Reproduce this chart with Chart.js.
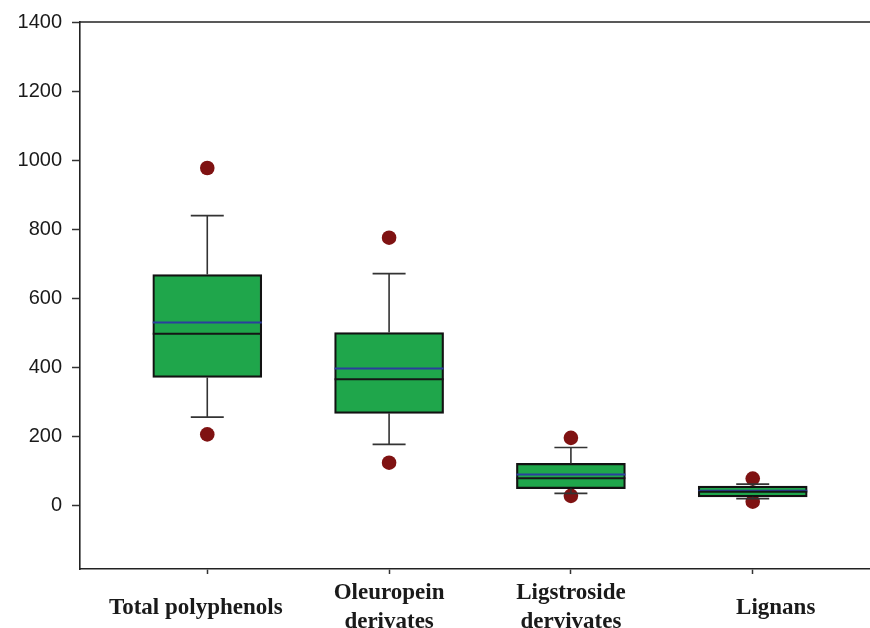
<!DOCTYPE html>
<html>
<head>
<meta charset="utf-8">
<script src="https://cdn.jsdelivr.net/npm/chart.js@4.4.1/dist/chart.umd.min.js"></script>
<style>
    html, body { margin: 0; padding: 0; background: #fff; overflow: hidden; }
    #wrap { width: 870px; height: 628px; }
</style>
</head>
<body>
<div id="wrap"><canvas id="boxChart" width="870" height="628"></canvas></div>
<script>
// categories and their position on the x axis
var categories = [['Total polyphenols'], ['Oleuropein', 'derivates'], ['Ligstroside', 'dervivates'], ['Lignans']];
var positions = [1, 2, 3, 4];

// box plot statistics
var whiskerLow  = [255, 176, 34, 19];
var q1          = [370, 266, 48, 24];
var median      = [497, 365, 78, 39];
var mean        = [529, 396, 89, 42];
var q3          = [668, 500, 121, 55];
var whiskerHigh = [839, 671, 167, 61];

// outliers (5th / 95th percentile points)
var outlierLow  = [205, 123, 27, 10];
var outlierHigh = [977, 775, 195, 77];

// y axis ticks
var yTicks = [0, 200, 400, 600, 800, 1000, 1200, 1400];

var boxData = positions.map(function(p, i) {
    return { x: p, y: [q1[i], q3[i]] };
});

var outlierData = [];
positions.forEach(function(p, i) {
    outlierData.push({ x: p, y: outlierLow[i] });
    outlierData.push({ x: p, y: outlierHigh[i] });
});

// whiskers, median and mean lines + top frame line
var boxExtras = {
    id: 'boxExtras',
    afterDatasetsDraw: function(chart) {
        var ctx = chart.ctx;
        var xs = chart.scales.x;
        var ys = chart.scales.y;
        var area = chart.chartArea;
        var half = 54.5;
        var cap = 16.5;

        ctx.save();
        positions.forEach(function(p, i) {
            var cx = xs.getPixelForValue(p);

            // whiskers
            ctx.strokeStyle = '#333';
            ctx.lineWidth = 1.6;
            ctx.beginPath();
            ctx.moveTo(cx, ys.getPixelForValue(q3[i]));
            ctx.lineTo(cx, ys.getPixelForValue(whiskerHigh[i]));
            ctx.moveTo(cx - cap, ys.getPixelForValue(whiskerHigh[i]));
            ctx.lineTo(cx + cap, ys.getPixelForValue(whiskerHigh[i]));
            ctx.moveTo(cx, ys.getPixelForValue(q1[i]));
            ctx.lineTo(cx, ys.getPixelForValue(whiskerLow[i]));
            ctx.moveTo(cx - cap, ys.getPixelForValue(whiskerLow[i]));
            ctx.lineTo(cx + cap, ys.getPixelForValue(whiskerLow[i]));
            ctx.stroke();

            // mean (blue)
            ctx.strokeStyle = '#2b3f9e';
            ctx.lineWidth = 2;
            ctx.beginPath();
            ctx.moveTo(cx - half, ys.getPixelForValue(mean[i]));
            ctx.lineTo(cx + half, ys.getPixelForValue(mean[i]));
            ctx.stroke();

            // median (black)
            ctx.strokeStyle = '#151515';
            ctx.lineWidth = 2;
            ctx.beginPath();
            ctx.moveTo(cx - half, ys.getPixelForValue(median[i]));
            ctx.lineTo(cx + half, ys.getPixelForValue(median[i]));
            ctx.stroke();
        });

        // top frame line
        ctx.strokeStyle = '#222';
        ctx.lineWidth = 1.6;
        ctx.beginPath();
        ctx.moveTo(area.left, area.top);
        ctx.lineTo(area.right, area.top);
        ctx.stroke();
        ctx.restore();
    }
};

var ctx = document.getElementById('boxChart').getContext('2d');
var chart = new Chart(ctx, {
    type: 'bar',
    data: {
        datasets: [{
            type: 'bar',
            data: boxData,
            backgroundColor: '#1fa64b',
            borderColor: '#121212',
            borderWidth: 2.2,
            borderSkipped: false,
            barThickness: 109,
            order: 1
        }, {
            type: 'scatter',
            data: outlierData,
            backgroundColor: '#7f1212',
            borderWidth: 0,
            pointRadius: 7.3,
            order: 2
        }]
    },
    options: {
        responsive: false,
        animation: false,
        layout: {
            autoPadding: false,
            padding: { top: 22, right: 0, bottom: 0, left: 0 }
        },
        plugins: {
            legend: { display: false },
            tooltip: { enabled: false }
        },
        scales: {
            x: {
                type: 'linear',
                position: 'bottom',
                offset: false,
                min: 0.3,
                max: 4.645,
                afterBuildTicks: function(scale) {
                    scale.ticks = positions.map(function(p) { return { value: p }; });
                },
                afterFit: function(scale) {
                    scale.height = 59;
                    scale.paddingLeft = 0;
                    scale.paddingRight = 0;
                },
                grid: {
                    offset: false,
                    drawOnChartArea: false,
                    drawTicks: true,
                    tickLength: 5,
                    tickWidth: 1.5,
                    tickColor: '#333'
                },
                border: { display: true, color: '#222', width: 1.6 },
                ticks: {
                    autoSkip: false,
                    maxRotation: 0,
                    padding: 19,
                    crossAlign: 'center',
                    color: '#1a1a1a',
                    font: { family: '"Liberation Serif", "Times New Roman", serif', size: 23, weight: 'bold', lineHeight: 1.27 },
                    callback: function(value) {
                        var label = categories[positions.indexOf(value)];
                        // the printed labels sit a little off their tick marks
                        if (value === 1) return [label[0] + '\u2002\u2002'];
                        if (value === 4) return ['\u2002\u2002\u2002\u2002' + label[0]];
                        return label;
                    }
                }
            },
            y: {
                min: -185,
                max: 1400,
                afterBuildTicks: function(scale) {
                    scale.ticks = yTicks.map(function(v) { return { value: v }; });
                },
                afterFit: function(scale) {
                    scale.width = 80;
                },
                grid: {
                    drawOnChartArea: false,
                    drawTicks: true,
                    tickLength: 8,
                    tickWidth: 1.5,
                    tickColor: '#333'
                },
                border: { display: true, color: '#222', width: 1.6 },
                ticks: {
                    padding: 10,
                    color: '#1a1a1a',
                    font: { family: '"Liberation Sans", Arial, sans-serif', size: 20 },
                    callback: function(value) {
                        return String(value);
                    }
                }
            }
        }
    },
    plugins: [boxExtras]
});
</script>
</body>
</html>
